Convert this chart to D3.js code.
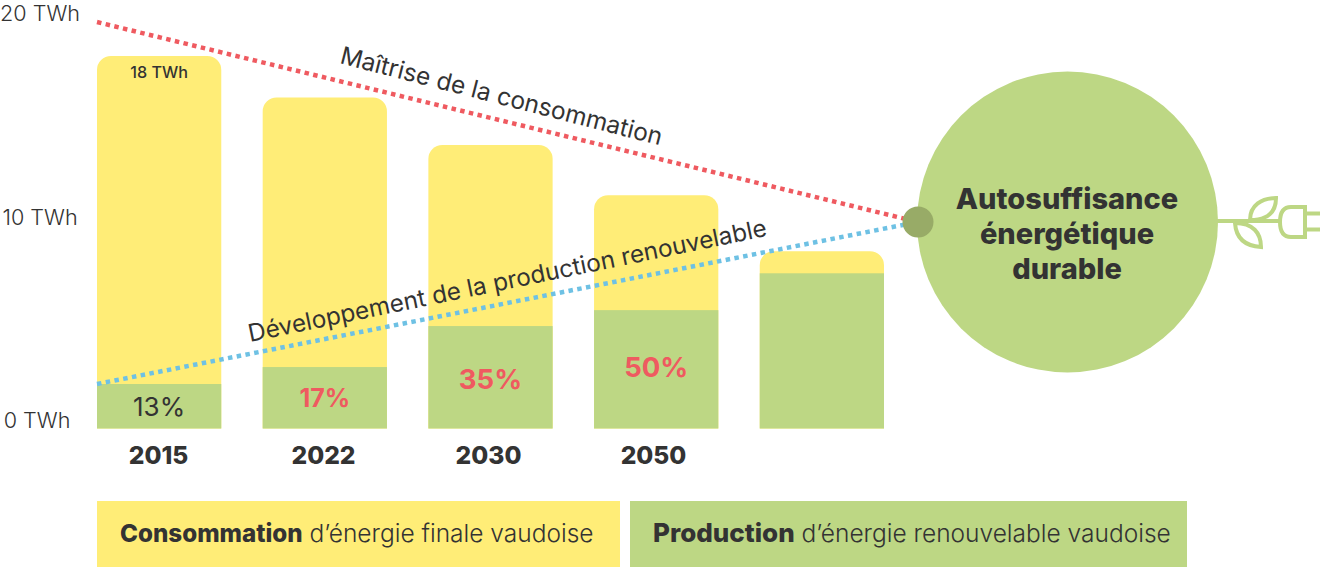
<!DOCTYPE html>
<html>
<head>
<meta charset="utf-8">
<script src="https://cdn.jsdelivr.net/npm/d3@7"></script>
<style>
html, body { margin: 0; padding: 0; background: #fff; }
svg { display: block; }
text { font-family: Inter, "Liberation Sans", sans-serif; fill: #333; }
</style>
</head>
<body>
<div id="chart"></div>
<script>
let years = ["2015", "2022", "2030", "2050"]
let consumption = [18, 16, 13.7, 11.27, 8.57]
let production = [2.15, 2.97, 4.95, 5.72, 7.5]
let shares = ["13%", "17%", "35%", "50%"]
let shareColors = ["#333333", "#EF5A60", "#EF5A60", "#EF5A60"]
let axisTicks = [0, 10, 20]
let goalLines = ["Autosuffisance", "énergétique", "durable"]
let legendStrong = ["Consommation", "Production"]
let legendRest = [" d’énergie finale vaudoise", " d’énergie renouvelable vaudoise"]

// trend lines, [position along x (0 = first bar, 1 = dot), TWh]
let reductionLine = [[0, 19.64], [1, 9.98]]
let renewableLine = [[0, 2.15], [1, 9.98]]

let yellow = "#FFED77"
let green = "#BDD784"
let width = 1320
let height = 567

let svg = d3.select("#chart").append("svg")
    .attr("width", width)
    .attr("height", height)

let x = d3.scaleBand().domain(d3.range(consumption.length)).range([97, 884]).paddingInner(0.25)
let y = d3.scaleLinear().domain([0, 18]).range([428.5, 56])
let xLine = d3.scaleLinear().domain([0, 1]).range([97, 918])
// year labels run a little tighter than the bars in the original
let xYear = d3.scalePoint().domain(years).range([158.5, 653.5])

// the axis labels sit a little off the bar scale in the original
let yAxisScale = d3.scaleLinear().domain([0, 20]).range([420, 13])
let yAxis = d3.axisLeft(yAxisScale).tickValues(axisTicks).tickSize(0).tickPadding(0)
    .tickFormat(d => d + " TWh")
let axisG = svg.append("g").attr("transform", "translate(40,0)").call(yAxis)
axisG.select(".domain").remove()
axisG.selectAll("text")
    .attr("text-anchor", "middle")
    .attr("x", d => d == 0 ? -3 : 0)
    .attr("dy", "0.36em")
    .style("font-size", "21.6px")
    .style("font-weight", 300)

function roundTop(i, v) {
    let left = x(i)
    let right = left + x.bandwidth()
    let top = y(v)
    let r = 14
    let p = d3.path()
    p.moveTo(left, y(0))
    p.lineTo(left, top + r)
    p.arcTo(left, top, left + r, top, r)
    p.lineTo(right - r, top)
    p.arcTo(right, top, right, top + r, r)
    p.lineTo(right, y(0))
    p.closePath()
    return p.toString()
}

svg.selectAll(".total").data(consumption).join("path")
    .attr("class", "total")
    .attr("d", (d, i) => roundTop(i, d))
    .attr("fill", yellow)

svg.selectAll(".renewable").data(production).join("rect")
    .attr("class", "renewable")
    .attr("x", (d, i) => x(i))
    .attr("y", d => y(d))
    .attr("width", x.bandwidth())
    .attr("height", d => y(0) - y(d))
    .attr("fill", green)

svg.append("text")
    .attr("x", x(0) + x.bandwidth() / 2)
    .attr("y", 78)
    .attr("text-anchor", "middle")
    .style("font-size", "16.2px")
    .style("font-weight", 500)
    .text("18 TWh")

// labels stay in the upper part of the green block
let shareY = [407, 398, 379, 367]
let shareSize = [26, 25, 27.5, 27.5]
svg.selectAll(".share").data(shares).join("text")
    .attr("class", "share")
    .attr("x", (d, i) => x(i) + x.bandwidth() / 2)
    .attr("y", (d, i) => shareY[i])
    .attr("dy", "0.36em")
    .attr("text-anchor", "middle")
    .style("fill", (d, i) => shareColors[i])
    .style("font-size", (d, i) => shareSize[i] + "px")
    .style("font-weight", (d, i) => i == 0 ? 400 : 700)
    .text(d => d)

svg.selectAll(".year").data(years).join("text")
    .attr("class", "year")
    .attr("x", d => xYear(d))
    .attr("y", 455)
    .attr("dy", "0.36em")
    .attr("text-anchor", "middle")
    .style("font-size", "24.6px")
    .style("font-weight", 800)
    .text(d => d)

let line = d3.line().x(d => xLine(d[0])).y(d => y(d[1]))

svg.append("path")
    .attr("d", line(reductionLine))
    .attr("fill", "none")
    .attr("stroke", "#EF5A60")
    .attr("stroke-width", 4.5)
    .attr("stroke-dasharray", "4.5 4.4")

svg.append("path")
    .attr("d", line(renewableLine))
    .attr("fill", "none")
    .attr("stroke", "#6EC1E4")
    .attr("stroke-width", 4.5)
    .attr("stroke-dasharray", "4.5 4.4")

svg.append("text")
    .attr("transform", "translate(339,63) rotate(14.4)")
    .style("font-size", "24.4px")
    .style("font-weight", 400)
    .text("Maîtrise de la consommation")

svg.append("text")
    .attr("transform", "translate(250,342) rotate(-11.6)")
    .style("font-size", "24.3px")
    .style("font-weight", 400)
    .text("Développement de la production renouvelable")

// goal circle with the plug on the right
svg.append("circle")
    .attr("cx", 1067.5).attr("cy", 222).attr("r", 150.5)
    .attr("fill", green)
svg.append("circle")
    .attr("cx", 918).attr("cy", 222).attr("r", 15.5)
    .attr("fill", "#98AB67")

svg.selectAll(".goal").data(goalLines).join("text")
    .attr("class", "goal")
    .attr("x", 1067)
    .attr("y", (d, i) => 199 + i * 35)
    .attr("dy", "0.36em")
    .attr("text-anchor", "middle")
    .style("font-size", "29px")
    .style("font-weight", 800)
    .text(d => d)

let plug = svg.append("g")
    .attr("fill", "none")
    .attr("stroke", green)
    .attr("stroke-width", 4)
plug.append("path").attr("d", "M1216,221H1280")
plug.append("path").attr("d", "M1250,220C1250,205 1262,198 1276,198C1276,210 1270,220 1250,220Z")
plug.append("path").attr("d", "M1235,223C1236,238 1245,246 1261,247C1261,233 1253,223 1235,223Z")
plug.append("path").attr("d", "M1305,207H1291C1283,207 1280,213 1280,222C1280,231 1283,237 1291,237H1305Z")
plug.append("path").attr("d", "M1305,213.5H1320M1305,229.5H1320")

// legend
let legendX = [97, 630]
let legendW = [523, 557]
let strongSize = [24.2, 26]
svg.selectAll(".legend-box").data(legendStrong).join("rect")
    .attr("class", "legend-box")
    .attr("x", (d, i) => legendX[i])
    .attr("y", 501)
    .attr("width", (d, i) => legendW[i])
    .attr("height", 66)
    .attr("fill", (d, i) => i == 0 ? yellow : green)

let legendText = svg.selectAll(".legend-text").data(legendStrong).join("text")
    .attr("class", "legend-text")
    .attr("x", (d, i) => legendX[i] + 23)
    .attr("y", 533)
    .attr("dy", "0.36em")
    .style("font-size", "24px")
legendText.append("tspan")
    .style("font-size", (d, i) => strongSize[i] + "px")
    .style("font-weight", 800)
    .text(d => d)
legendText.append("tspan")
    .style("font-size", "24.5px")
    .style("font-weight", 300)
    .text((d, i) => legendRest[i])
</script>
</body>
</html>
